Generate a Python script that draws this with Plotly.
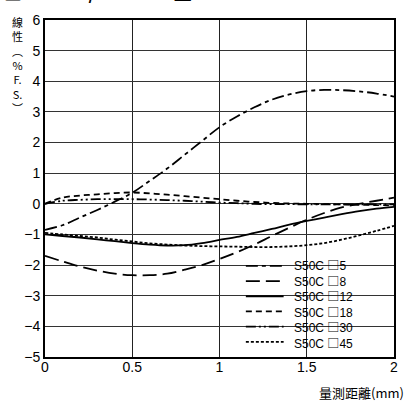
import plotly.graph_objects as go

x_mm = [0, 0.1, 0.2, 0.3, 0.4, 0.5, 0.6, 0.7, 0.8, 0.9, 1.0,
        1.1, 1.2, 1.3, 1.4, 1.5, 1.6, 1.7, 1.8, 1.9, 2.0]

s5 = [-0.85, -0.7, -0.45, -0.2, 0.07, 0.36, 0.75, 1.15, 1.6, 2.05, 2.5,
      2.85, 3.15, 3.4, 3.57, 3.68, 3.72, 3.71, 3.67, 3.6, 3.5]
s8 = [-1.7, -1.88, -2.05, -2.18, -2.28, -2.33, -2.33, -2.28, -2.15, -2.0, -1.8,
      -1.58, -1.33, -1.05, -0.78, -0.52, -0.3, -0.12, 0.0, 0.1, 0.2]
s12 = [-1.0, -1.05, -1.1, -1.16, -1.22, -1.28, -1.33, -1.36, -1.35, -1.28, -1.18,
       -1.08, -0.95, -0.82, -0.68, -0.56, -0.45, -0.34, -0.24, -0.16, -0.1]
s18 = [0.0, 0.2, 0.27, 0.31, 0.35, 0.37, 0.34, 0.3, 0.25, 0.2, 0.15,
       0.1, 0.06, 0.03, 0.01, 0.0, -0.01, -0.02, -0.03, -0.04, -0.05]
s30 = [0.0, 0.1, 0.13, 0.15, 0.15, 0.15, 0.14, 0.12, 0.1, 0.07, 0.04,
       0.02, 0.0, -0.01, -0.01, -0.02, -0.02, -0.02, -0.02, -0.02, -0.02]
s45 = [-0.95, -1.0, -1.05, -1.1, -1.17, -1.23, -1.29, -1.33, -1.36, -1.38, -1.39,
       -1.40, -1.41, -1.41, -1.39, -1.35, -1.28, -1.17, -1.03, -0.88, -0.72]

names = ["S50C \u25a15", "S50C \u25a18", "S50C \u25a112", "S50C \u25a118", "S50C \u25a130", "S50C \u25a145"]
labels_size = ["5", "8", "12", "18", "30", "45"]
series = [s5, s8, s12, s18, s30, s45]
dashes = ["12px,4px,4px,4px", "14px,6px", "solid", "6px,4px", "10px,3px,2px,3px,2px,3px", "3px,2px"]

y_ticks = [-5, -4, -3, -2, -1, 0, 1, 2, 3, 4, 5, 6]
x_ticks = [0, 0.5, 1, 1.5, 2]
x_tick_text = ["0", "0.5", "1", "1.5", "2"]

fig = go.Figure()
for nm, ys, ds in zip(names, series, dashes):
    fig.add_trace(go.Scatter(x=x_mm, y=ys, name=nm, mode="lines", showlegend=False,
                             line=dict(color="black", width=1.8, dash=ds, shape="spline")))

font = "Liberation Sans, Arial, sans-serif"
cjk = "Noto Sans CJK TC, " + font
L, R, T, B = 45, 14, 13, 44
W = 410 - L - R
H = 401 - T - B


def px(xp):
    return (xp - L) / W


def py(yp):
    return (401 - B - yp) / H


fig.update_layout(
    width=410, height=401,
    margin=dict(l=L, r=R, t=T, b=B),
    plot_bgcolor="white", paper_bgcolor="white",
    font=dict(family=font, size=14, color="black"),
    showlegend=False,
    xaxis=dict(range=[0, 2], tickvals=x_ticks, ticktext=x_tick_text,
               showgrid=True, gridcolor="#222", gridwidth=1,
               showline=True, linecolor="black", linewidth=2, mirror=True,
               ticks="", zeroline=False, tickfont=dict(size=14),
               ticklabelstandoff=-4),
    yaxis=dict(range=[-5, 6], tickvals=y_ticks,
               showgrid=True, gridcolor="#333", gridwidth=1,
               showline=True, linecolor="black", linewidth=2, mirror=True,
               ticks="", zeroline=False, tickfont=dict(size=14)),
)

# legend box (covers gridlines, below traces)
fig.add_shape(type="rect", xref="paper", yref="paper",
              x0=px(241), x1=px(394), y0=py(350), y1=py(246),
              fillcolor="white", line=dict(width=0), layer="between")
row_y = [264, 279.5, 295, 310.5, 326, 341.5]
for ds, ry in zip(dashes, row_y):
    fig.add_shape(type="line", xref="paper", yref="paper",
                  x0=px(247), x1=px(285), y0=py(ry), y1=py(ry),
                  line=dict(color="black", width=1.8, dash=ds))
legend_text = "<br>".join(
    "S50C <span style='font-family:Noto Sans CJK TC'>\u25a1</span>" + lab
    for lab in labels_size)
fig.add_annotation(text=legend_text, xref="paper", yref="paper",
                   x=px(294), y=py((row_y[0] + row_y[-1]) / 2),
                   xanchor="left", yanchor="middle", align="left",
                   showarrow=False, borderpad=0, font=dict(size=12, family=font))

# y-axis title stacked vertically
fig.add_annotation(text="線<br>性<br>︵<br>%<br>F.<br>S.<br>︶", xref="paper", yref="paper",
                   x=px(17), y=py(58.5),
                   xanchor="center", yanchor="middle", showarrow=False,
                   align="center", borderpad=0,
                   font=dict(size=11, family=cjk))

fig.add_annotation(text="量測距離(mm)", xref="paper", yref="paper",
                   x=px(408), y=py(393),
                   xanchor="right", yanchor="middle", showarrow=False,
                   font=dict(size=13, family=cjk))

fig.add_annotation(text="<b>■ ED-130/ED-EM02型</b>", xref="paper", yref="paper",
                   x=px(2), y=py(-0.5),
                   xanchor="left", yanchor="bottom", showarrow=False,
                   font=dict(size=18, family=cjk))

fig.write_html("out.html")
